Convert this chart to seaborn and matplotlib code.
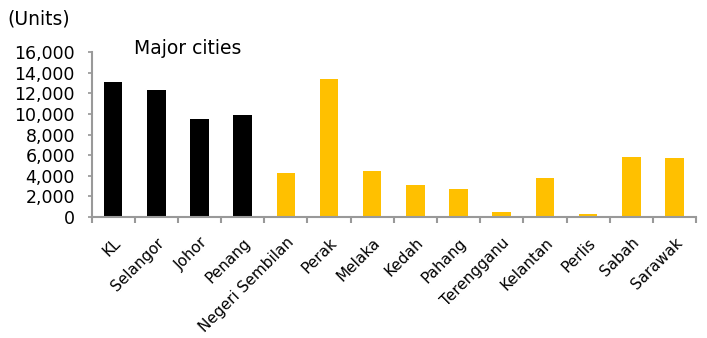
import matplotlib
matplotlib.use("Agg")
import matplotlib.pyplot as plt
import seaborn as sns
import pandas as pd
from matplotlib.ticker import FuncFormatter

states = ["KL", "Selangor", "Johor", "Penang", "Negeri Sembilan", "Perak", "Melaka",
          "Kedah", "Pahang", "Terengganu", "Kelantan", "Perlis", "Sabah", "Sarawak"]
units = [13100, 12300, 9550, 9900, 4250, 13350, 4450, 3150, 2700, 500, 3750, 250, 5800, 5750]
group = ["Major"] * 4 + ["Other"] * 10

df = pd.DataFrame({"state": states, "units": units, "group": group})

sns.set_theme(style="white")
plt.rcParams["font.family"] = ["DejaVu Sans"]
plt.rcParams["text.color"] = "black"
plt.rcParams["xtick.color"] = "black"
plt.rcParams["ytick.color"] = "black"

fig = plt.figure(figsize=(7.07, 3.38), dpi=100)
ax = fig.add_axes([0.1295, 0.358, 0.855, 0.488])

sns.barplot(data=df, x="state", y="units", hue="group", dodge=False,
            palette={"Major": "#000000", "Other": "#FFC000"}, width=0.43,
            legend=False, ax=ax, saturation=1, linewidth=0)

ax.set_ylim(0, 16000)
ax.set_xlim(-0.5, len(states) - 0.5)
ax.set_yticks(range(0, 16001, 2000))
ax.yaxis.set_major_formatter(FuncFormatter(lambda v, p: f"{int(v):,}"))
ax.tick_params(axis="y", labelsize=12.5, length=3, color="#999999", left=True, pad=9,
               labelcolor="black")
ax.set_xticks([i for i in range(len(states))])
ax.set_xticklabels(states, rotation=45, ha="right", rotation_mode="anchor", fontsize=11)
ax.tick_params(axis="x", length=0, pad=13, labelcolor="black")
ax.set_xticks([i - 0.5 for i in range(len(states) + 1)], minor=True)
ax.tick_params(axis="x", which="minor", length=4, color="#999999", width=1.5, bottom=True)
ax.set_xlabel("")
ax.set_ylabel("")
for s in ["top", "right"]:
    ax.spines[s].set_visible(False)
for s in ["left", "bottom"]:
    ax.spines[s].set_color("#999999")
    ax.spines[s].set_linewidth(1.5)

ax.text(1.72, 16300, "Major cities", ha="center", va="center", fontsize=13.5,
        color="black", clip_on=False)
fig.text(0.011, 0.945, "(Units)", ha="left", va="center", fontsize=13.5, color="black")

fig.savefig("out.png", dpi=100)
